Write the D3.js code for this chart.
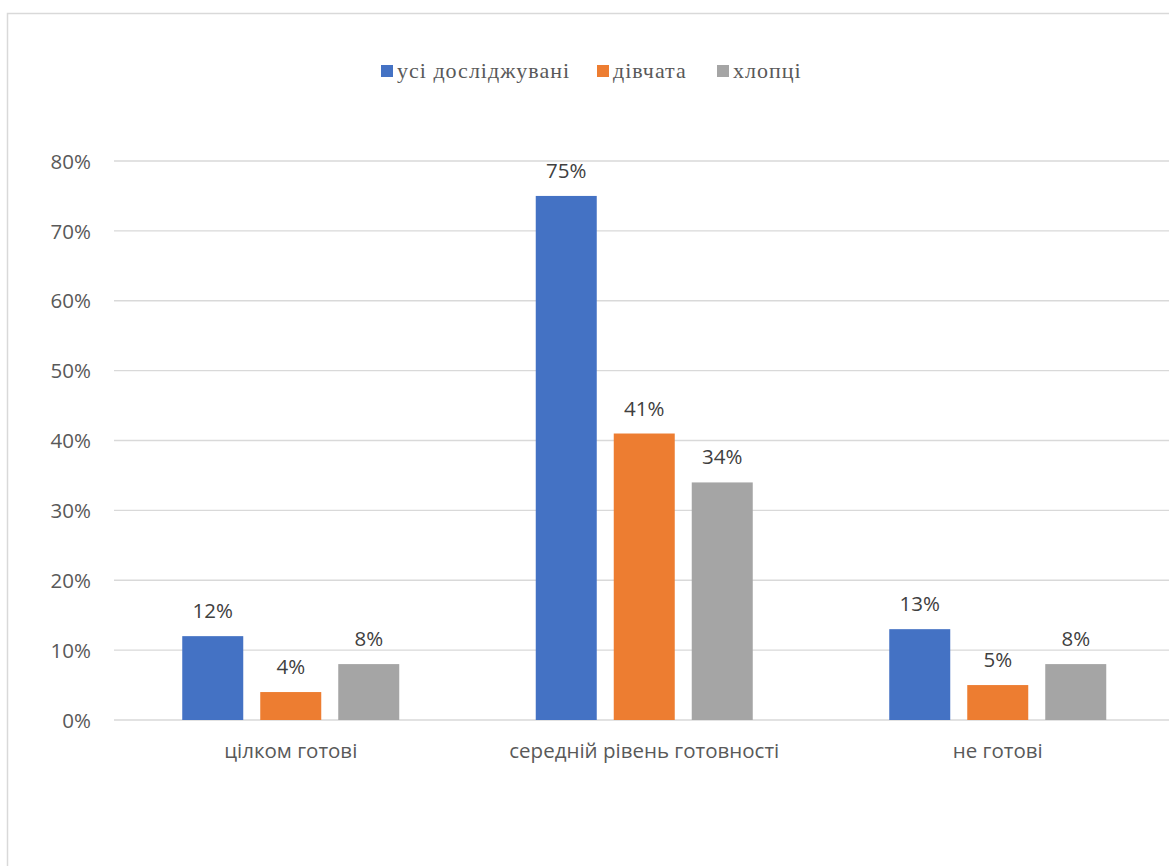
<!DOCTYPE html>
<html><head><meta charset="utf-8">
<script src="https://cdn.jsdelivr.net/npm/d3@7"></script>
<style>body{margin:0;background:#fff;overflow:hidden}</style>
</head><body>
<script>
const categories = ["цілком готові", "середній рівень готовності", "не готові"];
const seriesNames = ["усі досліджувані", "дівчата", "хлопці"];
const seriesColors = ["#4472C4", "#ED7D31", "#A5A5A5"];
const valuesAll = [12, 75, 13];
const valuesGirls = [4, 41, 5];
const valuesBoys = [8, 34, 8];
const yTicks = [0, 10, 20, 30, 40, 50, 60, 70, 80];

(function () {
const series = [valuesAll, valuesGirls, valuesBoys];
const W = 1169, H = 866;
const SANS = "'Open Sans', 'Noto Sans', sans-serif";
const SERIF = "'Liberation Serif', 'Times New Roman', Times, 'DejaVu Serif', 'Noto Serif', serif";
const svg = d3.select("body").append("svg").attr("width", W).attr("height", H);

// chart frame
svg.append("rect").attr("x", 7.5).attr("y", 13.5).attr("width", 1200).attr("height", 900)
  .attr("fill", "#fff").attr("stroke", "#d9d9d9").attr("stroke-width", 1.5);

const pLeft = 114, pRight = 1174.5, pTop = 161, pBottom = 720;
const x = d3.scaleBand().domain(categories).range([pLeft, pRight]);
const y = d3.scaleLinear().domain([0, 80]).range([pBottom, pTop]);
const FS = 20.5;

// gridlines
svg.append("g").selectAll("line").data(yTicks).join("line")
  .attr("x1", pLeft).attr("x2", pRight)
  .attr("y1", d => y(d)).attr("y2", d => y(d))
  .attr("stroke", "#d9d9d9").attr("stroke-width", 1.3);

// y axis labels
const yAxis = d3.axisLeft(y).tickValues(yTicks).tickFormat(d => d + "%").tickSize(0).tickPadding(0);
const ga = svg.append("g").attr("transform", `translate(${91},0)`).call(yAxis);
ga.select(".domain").remove();
ga.attr("font-family", null).attr("font-size", null);
ga.selectAll("text").style("font-family", SANS).style("font-size", FS + "px")
  .attr("fill", "#595959").attr("dy", "0.35em");

// bars
const barW = 61, gap = 17;
const groupW = barW * 3 + gap * 2;
const xs = d3.scaleBand().domain(d3.range(3)).range([0, groupW]).paddingInner(gap / (barW + gap));

series.forEach((vals, si) => {
  const g = svg.append("g");
  g.selectAll("rect").data(vals).join("rect")
    .attr("x", (d, i) => x(categories[i]) + x.bandwidth() / 2 - groupW / 2 + xs(si))
    .attr("y", d => y(d))
    .attr("width", xs.bandwidth())
    .attr("height", d => y(0) - y(d))
    .attr("fill", seriesColors[si]);
  g.selectAll("text").data(vals).join("text")
    .attr("x", (d, i) => x(categories[i]) + x.bandwidth() / 2 - groupW / 2 + xs(si) + xs.bandwidth() / 2)
    .attr("y", d => y(d) - 18)
    .attr("text-anchor", "middle")
    .style("font-family", SANS).style("font-size", FS + "px")
    .attr("fill", "#404040")
    .text(d => d + "%");
});

// x axis labels
const xAxis = d3.axisBottom(x).tickSize(0).tickPadding(0);
const gx = svg.append("g").attr("transform", `translate(0,${751})`).call(xAxis);
gx.select(".domain").remove();
gx.attr("font-family", null).attr("font-size", null);
gx.selectAll("text").style("font-family", SANS).style("font-size", FS + "px")
  .attr("fill", "#595959").attr("dy", "0.35em");

// legend
const legendX = [381, 597, 717];
const lg = svg.append("g");
seriesNames.forEach((name, i) => {
  lg.append("rect").attr("x", legendX[i]).attr("y", 65).attr("width", 12).attr("height", 12)
    .attr("fill", seriesColors[i]);
  lg.append("text").attr("x", legendX[i] + 16).attr("y", 78)
    .style("font-family", SERIF).style("font-size", "22px").style("letter-spacing", "1px")
    .attr("fill", "#595959").text(name);
});
})();
</script>
</body></html>
